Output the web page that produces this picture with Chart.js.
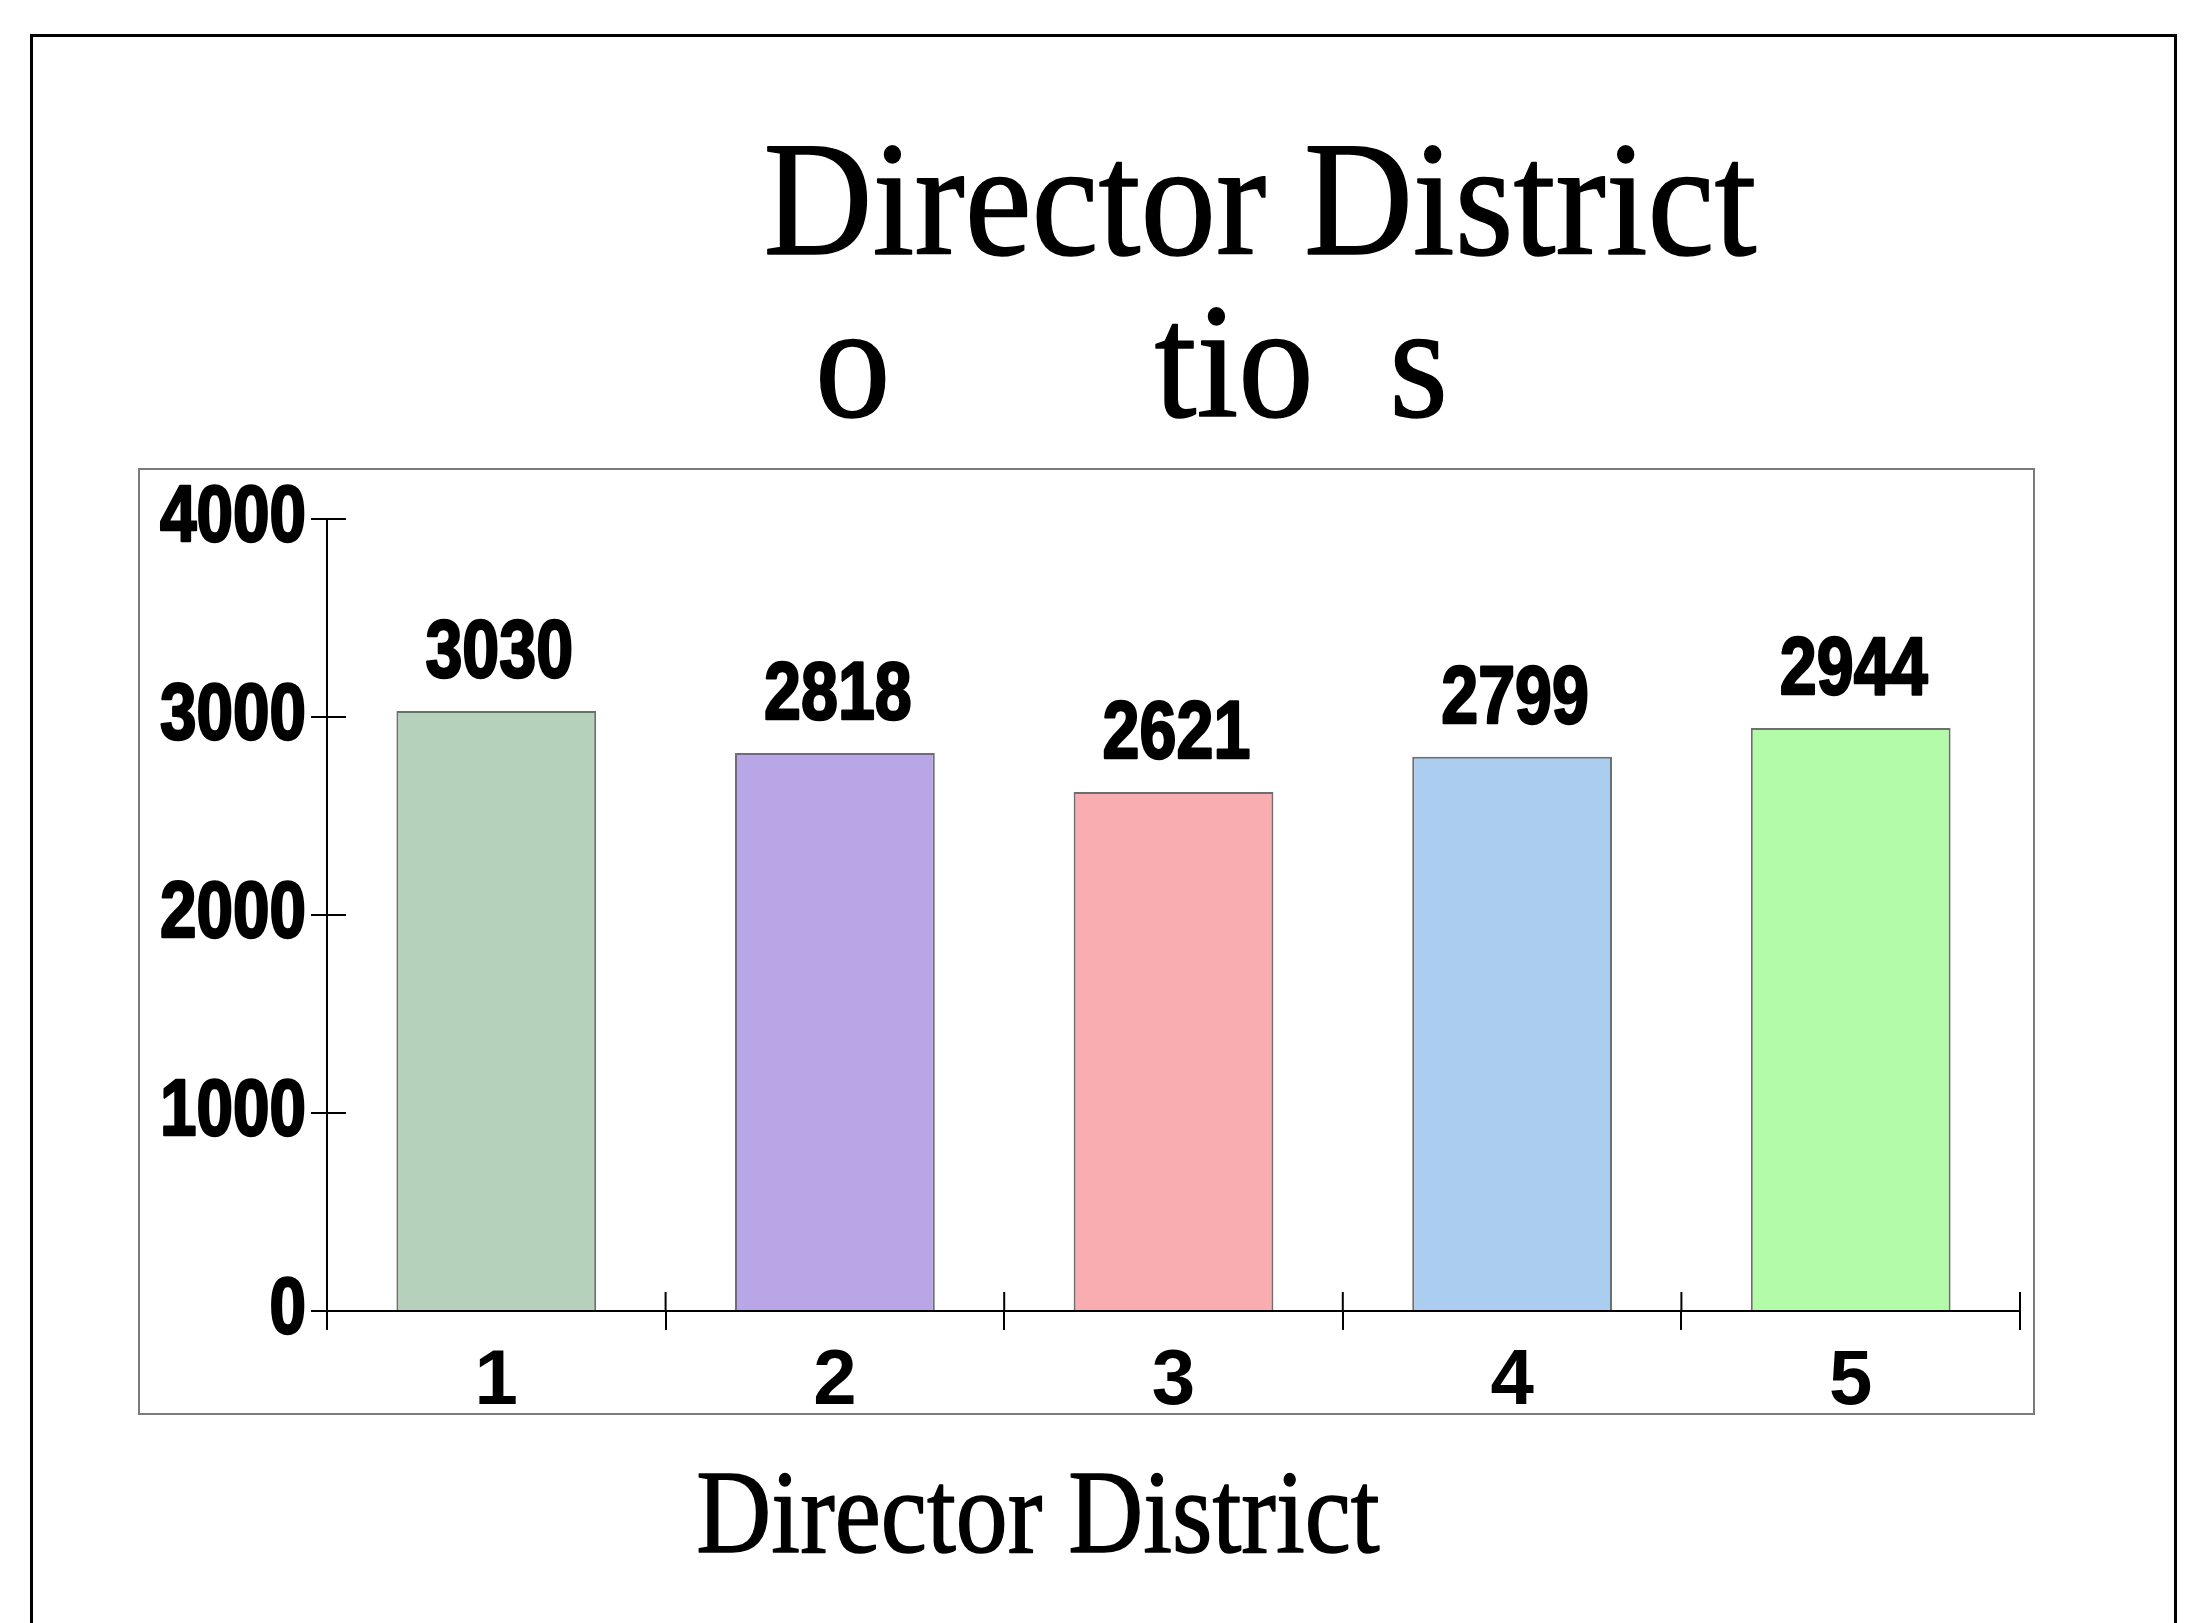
<!DOCTYPE html>
<html>
<head>
<meta charset="utf-8">
<script src="https://cdn.jsdelivr.net/npm/chart.js@4"></script>
<style>
    html, body { margin: 0; padding: 0; background: #ffffff; overflow: hidden; }
    #contenedor { position: relative; width: 2212px; height: 1623px; }
</style>
</head>
<body>
<div id="contenedor"><canvas id="grafica"></canvas></div>
<script>
// Datos del gráfico
const distritos = ['1', '2', '3', '4', '5'];
const votos = [3030, 2818, 2621, 2799, 2944];
const marcasY = [0, 1000, 2000, 3000, 4000];
const coloresBarras = ['#b5d1bb', '#b9a6e6', '#f9adb0', '#aacdf0', '#b3fba9'];
const tituloLineas = ['Director District', 'o       tio  s'];
const tituloEjeX = 'Director District';

const fuenteNumeros = "'Liberation Sans', Arial, sans-serif";
const fuenteSerif = "'Liberation Serif', 'Times New Roman', serif";

// Texto estrechado en horizontal (el original usa letras condensadas)
function textoEstrecho(ctx, texto, x, y, escala, alineacion, grosor) {
    ctx.save();
    ctx.translate(x, y);
    ctx.scale(escala, 1);
    ctx.textAlign = alineacion;
    ctx.fillText(texto, 0, 0);
    if (grosor) {
        ctx.lineWidth = grosor;
        ctx.lineJoin = 'round';
        ctx.strokeText(texto, 0, 0);
    }
    ctx.restore();
}

// Marcos de la diapositiva (negro exterior y gris alrededor del gráfico)
const marcos = {
    id: 'marcos',
    beforeDraw(chart) {
        const ctx = chart.ctx;
        ctx.save();
        ctx.strokeStyle = '#000000';
        ctx.lineWidth = 3;
        ctx.strokeRect(31.5, 35.5, 2144, 1700);
        ctx.strokeStyle = '#7a7a7a';
        ctx.lineWidth = 2;
        ctx.strokeRect(139, 469, 1895, 945);
        ctx.restore();
    }
};

// Marcas hacia dentro del área y etiquetas del eje Y
const ejesExtra = {
    id: 'ejesExtra',
    afterDraw(chart) {
        const ctx = chart.ctx;
        const ejeX = chart.scales.x;
        const ejeY = chart.scales.y;
        ctx.save();
        ctx.strokeStyle = '#000000';
        ctx.lineWidth = 2;
        ctx.beginPath();
        ejeY.ticks.forEach(t => {
            const y = ejeY.getPixelForValue(t.value);
            ctx.moveTo(ejeX.left, y);
            ctx.lineTo(ejeX.left + 19, y);
        });
        const ancho = ejeX.width / distritos.length;
        for (let i = 1; i <= distritos.length; i++) {
            const x = ejeX.left + i * ancho;
            ctx.moveTo(x, ejeY.bottom);
            ctx.lineTo(x, ejeY.bottom - 19);
        }
        ctx.stroke();

        ctx.fillStyle = '#000000';
        ctx.font = 'bold 80px ' + fuenteNumeros;
        ctx.textBaseline = 'middle';
        ejeY.ticks.forEach(t => {
            const y = ejeY.getPixelForValue(t.value);
            textoEstrecho(ctx, String(t.value), ejeY.right - 21, y, 0.82, 'right', 2.5);
        });
        ctx.restore();
    }
};

// Valores encima de cada barra
const etiquetasValores = {
    id: 'etiquetasValores',
    afterDatasetsDraw(chart) {
        const ctx = chart.ctx;
        const meta = chart.getDatasetMeta(0);
        ctx.save();
        ctx.fillStyle = '#000000';
        ctx.strokeStyle = '#000000';
        ctx.font = 'bold 82px ' + fuenteNumeros;
        ctx.textBaseline = 'alphabetic';
        meta.data.forEach((barra, i) => {
            textoEstrecho(ctx, String(votos[i]), barra.x + 3, barra.y - 34, 0.81, 'center', 2.5);
        });
        ctx.restore();
    }
};

const titulos = {
    id: 'titulos',
    afterDraw(chart) {
        const ctx = chart.ctx;
        ctx.save();
        ctx.fillStyle = '#000000';
        ctx.strokeStyle = '#000000';
        ctx.textBaseline = 'alphabetic';
        ctx.font = '164px ' + fuenteSerif;
        textoEstrecho(ctx, tituloLineas[0], 1260, 254, 0.92, 'center', 1.5);
        textoEstrecho(ctx, tituloLineas[1], 815, 416, 0.92, 'left', 1.5);
        ctx.font = '118px ' + fuenteSerif;
        textoEstrecho(ctx, tituloEjeX, 1038, 1552, 0.88, 'center', 1.5);
        ctx.restore();
    }
};

const ctx = document.getElementById('grafica').getContext('2d');
new Chart(ctx, {
    type: 'bar',
    data: {
        labels: distritos,
        datasets: [{
            data: votos,
            backgroundColor: coloresBarras,
            borderColor: '#6e6e6e',
            borderWidth: 2,
            barPercentage: 0.59,
            categoryPercentage: 1
        }]
    },
    options: {
        responsive: true,
        maintainAspectRatio: false,
        animation: false,
        layout: {
            padding: { left: 0, right: 192, top: 519, bottom: 212 }
        },
        plugins: {
            legend: { display: false },
            title: { display: false },
            tooltip: { enabled: false }
        },
        scales: {
            x: {
                afterFit: (eje) => { eje.height = 100; },
                grid: {
                    offset: true,
                    drawOnChartArea: false,
                    drawTicks: true,
                    tickLength: 19,
                    color: '#000000',
                    lineWidth: 2
                },
                border: { display: true, color: '#000000', width: 2 },
                ticks: {
                    color: '#000000',
                    padding: 6,
                    font: { family: fuenteNumeros, size: 78, weight: 'bold' }
                }
            },
            y: {
                min: 0,
                max: 4000,
                afterBuildTicks: (eje) => { eje.ticks = marcasY.map(v => ({ value: v })); },
                afterFit: (eje) => { eje.width = 327; },
                grid: {
                    drawOnChartArea: false,
                    drawTicks: true,
                    tickLength: 16,
                    color: '#000000',
                    lineWidth: 2
                },
                border: { display: true, color: '#000000', width: 2 },
                ticks: { display: false }
            }
        }
    },
    plugins: [marcos, etiquetasValores, ejesExtra, titulos]
});
</script>
</body>
</html>
